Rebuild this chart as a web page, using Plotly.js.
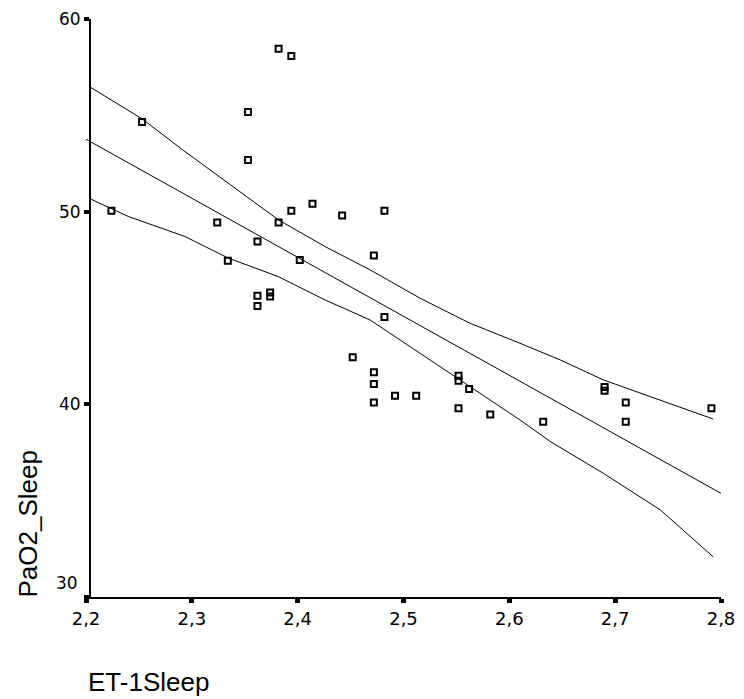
<!DOCTYPE html>
<html>
<head>
<meta charset="utf-8">
<script src="https://cdn.plot.ly/plotly-3.0.1.min.js"></script>
<style>
  html, body { margin: 0; padding: 0; background: #ffffff; }
  #chart { width: 744px; height: 699px; }
</style>
</head>
<body>
<div id="chart"></div>
<script>
// Observed data: ET-1Sleep (x) vs PaO2_Sleep (y)
const etSleep = [2.253, 2.353, 2.353, 2.224, 2.324, 2.394, 2.414, 2.382, 2.362, 2.402,
                 2.334, 2.362, 2.362, 2.374, 2.374, 2.382, 2.394, 2.442, 2.482, 2.472,
                 2.482, 2.452, 2.472, 2.472, 2.472, 2.492, 2.512, 2.552, 2.552, 2.562,
                 2.552, 2.582, 2.632, 2.690, 2.690, 2.710, 2.710, 2.791];
const pao2Sleep = [54.65, 55.17, 52.68, 50.05, 49.44, 50.05, 50.41, 49.44, 48.45, 47.49,
                   47.45, 45.63, 45.11, 45.60, 45.80, 58.46, 58.08, 49.80, 50.05, 47.72,
                   44.53, 42.45, 41.67, 41.06, 40.09, 40.45, 40.45, 41.48, 41.22, 40.79,
                   39.80, 39.47, 39.10, 40.70, 40.90, 40.09, 39.10, 39.80];

// Fit line
const fitX = [2.2, 2.8];
const fitY = [53.76, 35.38];

// Upper confidence curve
const upperX = [2.2038, 2.2532, 2.2935, 2.3345, 2.3817, 2.4258, 2.4684, 2.5156, 2.5628, 2.6101, 2.6479, 2.6888, 2.7427, 2.7925];
const upperY = [56.47, 54.81, 53.12, 51.48, 49.58, 48.19, 46.98, 45.51, 44.21, 43.17, 42.31, 41.27, 40.23, 39.24];

// Lower confidence curve
const lowerX = [2.2038, 2.2400, 2.2935, 2.3345, 2.3817, 2.4258, 2.4684, 2.5156, 2.5628, 2.6101, 2.6384, 2.6888, 2.7427, 2.7925];
const lowerY = [50.67, 49.75, 48.71, 47.59, 46.63, 45.42, 44.38, 42.66, 40.92, 39.19, 38.08, 36.42, 34.52, 32.09];

const xTicks = [2.2, 2.3, 2.4, 2.5, 2.6, 2.7, 2.8];
const xTickText = ['2,2', '2,3', '2,4', '2,5', '2,6', '2,7', '2,8'];
const yTicks = [30, 40, 50, 60];
const yTickText = ['', '40', '50', '60'];

const lineStyle = { color: '#000000', width: 1 };

const traces = [
  { x: upperX, y: upperY, mode: 'lines', line: lineStyle, hoverinfo: 'skip', showlegend: false },
  { x: fitX, y: fitY, mode: 'lines', line: lineStyle, hoverinfo: 'skip', showlegend: false },
  { x: lowerX, y: lowerY, mode: 'lines', line: lineStyle, hoverinfo: 'skip', showlegend: false },
  { x: etSleep, y: pao2Sleep, mode: 'markers', showlegend: false,
    marker: { symbol: 'square-open', size: 6, color: '#000000', line: { color: '#000000', width: 2 } } }
];

const layout = {
  width: 744, height: 699,
  margin: { l: 86, r: 23, t: 19, b: 102 },
  paper_bgcolor: '#ffffff', plot_bgcolor: '#ffffff',
  showlegend: false,
  xaxis: {
    range: [2.2, 2.8], tickvals: xTicks, ticktext: xTickText,
    showgrid: false, zeroline: false,
    showline: true, linecolor: '#000000', linewidth: 2,
    ticks: 'outside', ticklen: 4, tickwidth: 5, tickcolor: '#000000',
    tickfont: { family: 'DejaVu Sans', size: 18, color: '#000000' }
  },
  yaxis: {
    range: [30, 60], tickvals: yTicks, ticktext: yTickText,
    anchor: 'free', position: 0.0063,
    showgrid: false, zeroline: false,
    showline: true, linecolor: '#000000', linewidth: 2,
    ticks: 'outside', ticklen: 5, tickwidth: 4, tickcolor: '#000000',
    tickfont: { family: 'DejaVu Sans', size: 17, color: '#000000' }
  },
  annotations: [
    { text: '30', xref: 'paper', yref: 'paper', x: (80 - 86) / 635, y: (597 - 583) / 578,
      xanchor: 'right', yanchor: 'middle', showarrow: false,
      font: { family: 'DejaVu Sans', size: 17, color: '#000000' } },
    { text: 'ET-1Sleep', xref: 'paper', yref: 'paper', x: (86 - 86) / 635, y: (597 - 682) / 578,
      xanchor: 'left', yanchor: 'middle', showarrow: false,
      font: { family: 'Liberation Sans, Arial, sans-serif', size: 26, color: '#000000' } },
    { text: 'PaO2_Sleep', xref: 'paper', yref: 'paper', x: (27 - 86) / 635, y: (597 - 524.5) / 578,
      xanchor: 'center', yanchor: 'middle', textangle: -90, showarrow: false,
      font: { family: 'Liberation Sans, Arial, sans-serif', size: 26, color: '#000000' } }
  ]
};

Plotly.newPlot('chart', traces, layout, { staticPlot: true, displayModeBar: false });
</script>
</body>
</html>
